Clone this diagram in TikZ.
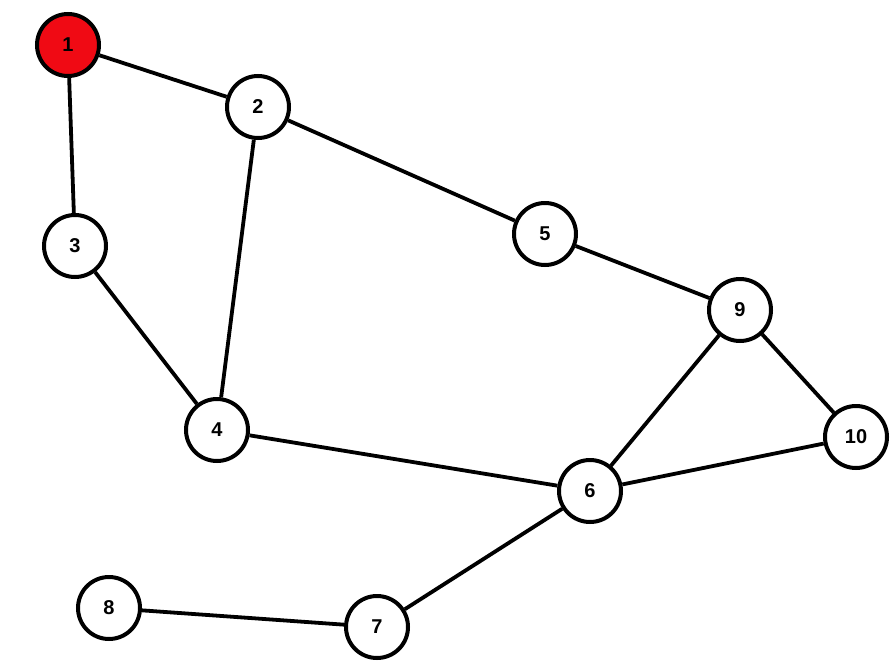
\documentclass[tikz,border=0pt]{standalone}
\usepackage{fontspec}
\setmainfont{Liberation Sans}
\definecolor{my_red}{HTML}{F00A14}

\begin{document}
\begin{tikzpicture}[
    x=1pt, y=-1pt,
    vertex/.style={circle, draw=black, line width=4pt, fill=white,
        minimum size=62pt, inner sep=0pt,
        font=\fontsize{20}{24}\selectfont\bfseries},
    start/.style={vertex, fill=my_red},
    edge/.style={draw=black, line width=3.8pt}
]
\useasboundingbox (0,0) rectangle (894,664);

% --- Knoten ---
\node[start]  (v1)  at (68, 45)   {1};
\node[vertex] (v2)  at (258, 107) {2};
\node[vertex] (v3)  at (75, 246)  {3};
\node[vertex] (v4)  at (217, 430) {4};
\node[vertex] (v5)  at (545, 234) {5};
\node[vertex] (v6)  at (590, 491) {6};
\node[vertex] (v7)  at (377, 627) {7};
\node[vertex] (v8)  at (109, 608) {8};
\node[vertex] (v9)  at (740, 310) {9};
\node[vertex] (v10) at (856, 437) {10};

% --- Kanten ---
\foreach \a/\b in {v1/v2, v1/v3, v2/v5, v2/v4, v3/v4, v4/v6,
                   v5/v9, v9/v6, v9/v10, v10/v6, v6/v7, v7/v8} {
    \draw[edge] (\a) -- (\b);
}

\end{tikzpicture}
\end{document}
